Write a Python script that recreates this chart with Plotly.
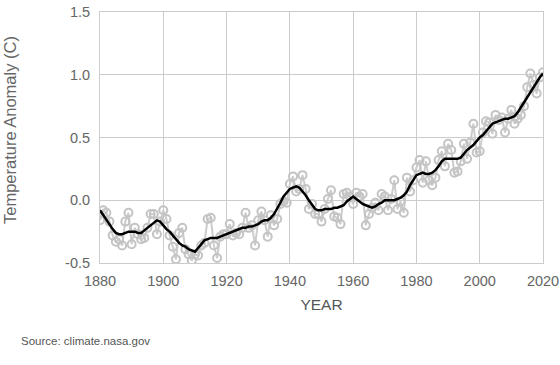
import plotly.graph_objects as go

years = list(range(1880, 2021))
annual = [-0.16, -0.08, -0.10, -0.17, -0.28, -0.33, -0.31, -0.36, -0.17, -0.10,
          -0.35, -0.22, -0.27, -0.31, -0.30, -0.22, -0.11, -0.11, -0.27, -0.17,
          -0.08, -0.15, -0.28, -0.37, -0.47, -0.26, -0.22, -0.39, -0.43, -0.48,
          -0.43, -0.44, -0.36, -0.34, -0.15, -0.14, -0.36, -0.46, -0.29, -0.27,
          -0.27, -0.19, -0.28, -0.26, -0.27, -0.22, -0.10, -0.22, -0.20, -0.36,
          -0.16, -0.09, -0.16, -0.29, -0.12, -0.20, -0.15, -0.03, -0.01, -0.02,
          0.13, 0.19, 0.07, 0.09, 0.20, 0.09, -0.07, -0.03, -0.11, -0.11,
          -0.17, -0.07, 0.01, 0.08, -0.13, -0.14, -0.19, 0.05, 0.06, 0.03,
          -0.03, 0.06, 0.03, 0.05, -0.20, -0.11, -0.06, -0.02, -0.08, 0.05,
          0.03, -0.08, 0.01, 0.16, -0.07, -0.01, -0.10, 0.18, 0.07, 0.16,
          0.26, 0.32, 0.14, 0.31, 0.16, 0.12, 0.18, 0.32, 0.39, 0.27,
          0.45, 0.40, 0.22, 0.23, 0.31, 0.45, 0.33, 0.46, 0.61, 0.38,
          0.39, 0.54, 0.63, 0.62, 0.53, 0.68, 0.64, 0.66, 0.54, 0.65,
          0.72, 0.61, 0.65, 0.68, 0.75, 0.90, 1.01, 0.92, 0.85, 0.98,
          1.02]
smooth = [-0.08, -0.12, -0.16, -0.20, -0.23, -0.26, -0.27, -0.27, -0.26, -0.25,
          -0.25, -0.25, -0.26, -0.26, -0.24, -0.22, -0.20, -0.18, -0.16, -0.17,
          -0.20, -0.23, -0.25, -0.28, -0.31, -0.34, -0.36, -0.37, -0.39, -0.40,
          -0.41, -0.38, -0.35, -0.32, -0.31, -0.30, -0.30, -0.30, -0.29, -0.28,
          -0.27, -0.26, -0.25, -0.24, -0.23, -0.22, -0.22, -0.21, -0.21, -0.20,
          -0.19, -0.17, -0.16, -0.16, -0.14, -0.11, -0.07, -0.02, 0.03, 0.06,
          0.09, 0.10, 0.11, 0.10, 0.07, 0.04, 0.00, -0.04, -0.07, -0.08,
          -0.08, -0.07, -0.07, -0.07, -0.06, -0.06, -0.05, -0.04, -0.01, 0.01,
          0.03, 0.01, -0.01, -0.03, -0.04, -0.05, -0.06, -0.05, -0.03, -0.02,
          -0.00, 0.00, 0.00, 0.00, 0.01, 0.02, 0.04, 0.07, 0.12, 0.16,
          0.20, 0.21, 0.22, 0.21, 0.21, 0.22, 0.24, 0.27, 0.31, 0.33,
          0.33, 0.33, 0.33, 0.33, 0.34, 0.37, 0.40, 0.42, 0.44, 0.47,
          0.50, 0.52, 0.55, 0.58, 0.61, 0.62, 0.63, 0.64, 0.65, 0.65,
          0.66, 0.67, 0.70, 0.74, 0.79, 0.83, 0.87, 0.91, 0.95, 0.98,
          1.01]

x_ticks = [1880, 1900, 1920, 1940, 1960, 1980, 2000, 2020]
y_ticks = [-0.5, 0.0, 0.5, 1.0, 1.5]
y_tick_labels = ["-0.5", "0.0", "0.5", "1.0", "1.5"]

font = "Liberation Sans, Arial, sans-serif"

fig = go.Figure()
fig.add_trace(go.Scatter(
    x=years, y=annual, mode="lines+markers",
    line=dict(color="#cccccc", width=2),
    marker=dict(symbol="circle-open", size=8, color="#c4c4c4", line=dict(width=2, color="#c4c4c4")),
    hoverinfo="x+y", showlegend=False))
fig.add_trace(go.Scatter(
    x=years, y=smooth, mode="lines",
    line=dict(color="#000000", width=2.5),
    showlegend=False))

fig.update_layout(
    width=560, height=365,
    margin=dict(l=100, r=17, t=12, b=102),
    paper_bgcolor="white", plot_bgcolor="white",
    font=dict(family=font, color="#666666", size=14),
    xaxis=dict(range=[1880, 2020], tickvals=x_ticks, ticktext=[str(v) for v in x_ticks],
               showgrid=True, gridcolor="#cccccc", gridwidth=1,
               showline=True, linecolor="#cccccc", linewidth=1, mirror=True,
               ticks="", zeroline=False, automargin=False, ticklabelstandoff=5,
               tickfont=dict(size=14.5, color="#666666"),
               title=dict(text="YEAR", font=dict(size=15.5, color="#555555"), standoff=10)),
    yaxis=dict(range=[-0.5, 1.5], tickvals=y_ticks, ticktext=y_tick_labels,
               showgrid=True, gridcolor="#cccccc", gridwidth=1,
               showline=True, linecolor="#cccccc", linewidth=1, mirror=True,
               ticks="", zeroline=False, automargin=False, ticklabelstandoff=6,
               tickfont=dict(size=14.5, color="#666666")),
    annotations=[
        dict(text="Temperature Anomaly (C)", xref="paper", yref="paper",
             x=-0.203, y=0.53, xanchor="center", yanchor="middle", textangle=-90,
             showarrow=False, font=dict(size=16.5, color="#666666", family=font)),
        dict(text="Source: climate.nasa.gov", xref="paper", yref="paper",
             x=-0.183, y=-0.31, xanchor="left", yanchor="middle", showarrow=False,
             font=dict(size=11.5, color="#555555", family=font))],
)

fig.write_html("out.html", config={"displayModeBar": False},
               post_script="document.body.style.margin='0';")
